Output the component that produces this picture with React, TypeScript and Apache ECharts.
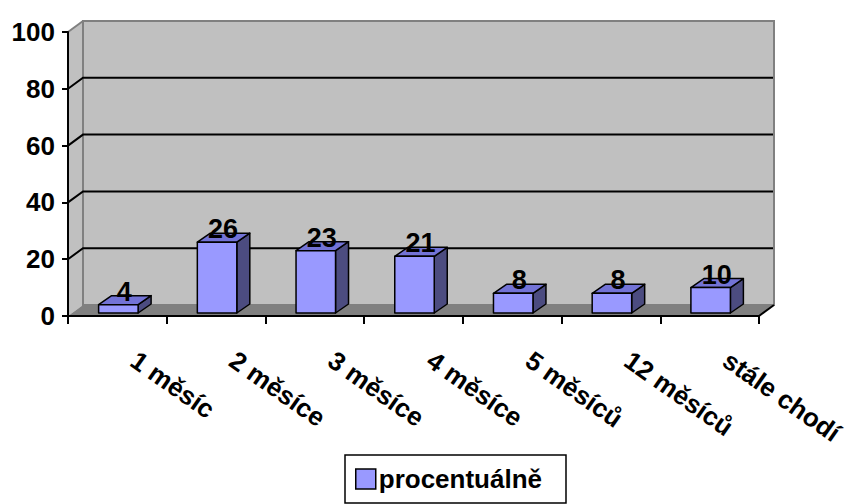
import React, { useEffect, useRef } from "react";
import * as echarts from "echarts";

const categories = ["1 měsíc", "2 měsíce", "3 měsíce", "4 měsíce", "5 měsíců", "12 měsíců", "stále chodí"];
const values = [4, 26, 23, 21, 8, 8, 10];
const seriesName = "procentuálně";
const yMin = 0;
const yMax = 100;
const yInterval = 20;
const gridValues = [20, 40, 60, 80];

const FONT = "'Liberation Sans', Arial, sans-serif";
const DX = 15;
const DY = -11;
const BDX = 13;
const BDY = -9;

export default function App() {
  const ref = useRef<HTMLDivElement>(null);
  useEffect(() => {
    if (!ref.current) return;
    const chart = echarts.init(ref.current, null, { renderer: "svg" });
    const black = { color: "#000", width: 2 };
    const option: any = {
      animation: false,
      grid: { left: 68, top: 32, width: 691, height: 284 },
      legend: {
        left: 345,
        top: 455,
        orient: "horizontal",
        borderColor: "#000",
        borderWidth: 1.5,
        borderRadius: 0,
        padding: [11, 24, 11, 10],
        itemWidth: 20,
        itemHeight: 20,
        itemGap: 4,
        data: [{ name: seriesName, icon: "rect", itemStyle: { color: "#9999FF", borderColor: "#000", borderWidth: 1.5 } }],
        textStyle: { color: "#000", fontSize: 26, fontWeight: "bold", fontFamily: FONT, padding: [0, 0, 0, -2] },
      },
      xAxis: {
        type: "category",
        data: categories,
        boundaryGap: true,
        axisLine: { show: true, lineStyle: black },
        axisTick: { show: true, length: 8, interval: 0, lineStyle: black },
        axisLabel: {
          interval: 0,
          rotate: -35,
          margin: 30,
          padding: [0, 0, 0, 20],
          color: "#000",
          fontSize: 26,
          fontWeight: "bold",
          fontFamily: FONT,
        },
        splitLine: { show: false },
      },
      yAxis: {
        type: "value",
        min: yMin,
        max: yMax,
        interval: yInterval,
        axisLine: { show: true, lineStyle: black },
        axisTick: { show: true, length: 6, lineStyle: black },
        splitLine: { show: false },
        axisLabel: { margin: 13, color: "#000", fontSize: 26, fontWeight: "bold", fontFamily: FONT },
      },
      series: [
        {
          type: "custom",
          name: "__bg",
          z: -1,
          silent: true,
          data: [[0, 0]],
          encode: { x: 0, y: 1 },
          renderItem: (params: any, api: any) => {
            const cs = params.coordSys;
            const L = cs.x;
            const R = cs.x + cs.width;
            const y0 = api.coord([0, yMin])[1];
            const y1 = api.coord([0, yMax])[1];
            const children: any[] = [];
            children.push({
              type: "polygon",
              shape: { points: [[L, y0], [L, y1], [L + DX, y1 + DY], [L + DX, y0 + DY]] },
              style: { fill: "#C0C0C0" },
            });
            children.push({
              type: "rect",
              shape: { x: L + DX, y: y1 + DY, width: R - L, height: y0 - y1 },
              style: { fill: "#C0C0C0", stroke: "#808080", lineWidth: 2 },
            });
            children.push({
              type: "line",
              shape: { x1: L, y1: y1, x2: L + DX, y2: y1 + DY },
              style: { stroke: "#808080", lineWidth: 2 },
            });
            gridValues.forEach((v) => {
              const y = api.coord([0, v])[1];
              children.push({
                type: "polyline",
                shape: { points: [[L, y], [L + DX, y + DY], [R + DX - 1, y + DY]] },
                style: { stroke: "#000", lineWidth: 2, fill: "none" },
              });
            });
            children.push({
              type: "polygon",
              shape: { points: [[L, y0], [L + DX, y0 + DY], [R + DX, y0 + DY], [R, y0]] },
              style: { fill: "#808080" },
            });
            children.push({
              type: "line",
              shape: { x1: R + DX, y1: y0 + DY, x2: R, y2: y0 },
              style: { stroke: "#000", lineWidth: 2 },
            });
            return { type: "group", children };
          },
        },
        {
          type: "custom",
          name: seriesName,
          z: 3,
          itemStyle: { color: "#9999FF", borderColor: "#000", borderWidth: 1.5 },
          data: values.map((v, i) => [i, v]),
          encode: { x: 0, y: 1 },
          renderItem: (params: any, api: any) => {
            const i = api.value(0);
            const v = api.value(1);
            const c0 = api.coord([i, 0]);
            const c1 = api.coord([i, v]);
            const bw = api.size([1, 0])[0];
            const w = bw * 0.4;
            const x0 = c0[0] - w / 2 + 1;
            const x1 = x0 + w;
            const yb = c0[1] - 3;
            const yt = c1[1];
            const stroke = { stroke: "#000", lineWidth: 1.5, lineJoin: "round" };
            return {
              type: "group",
              children: [
                {
                  type: "polygon",
                  shape: { points: [[x1, yt], [x1 + BDX, yt + BDY], [x1 + BDX, yb + BDY], [x1, yb]] },
                  style: { fill: "#4C4C80", ...stroke },
                },
                {
                  type: "polygon",
                  shape: { points: [[x0, yt], [x1, yt], [x1 + BDX, yt + BDY], [x0 + BDX, yt + BDY]] },
                  style: { fill: "#7373D6", ...stroke },
                },
                {
                  type: "rect",
                  shape: { x: x0, y: yt, width: w, height: yb - yt },
                  style: { fill: "#9999FF", ...stroke },
                },
                {
                  type: "text",
                  x: (x0 + x1) / 2 + 6,
                  y: yt - 13,
                  style: {
                    text: String(v),
                    fill: "#000",
                    font: `bold 27px ${FONT}`,
                    textAlign: "center",
                    textVerticalAlign: "middle",
                  },
                },
              ],
            };
          },
        },
      ],
    };
    chart.setOption(option);
    return () => chart.dispose();
  }, []);
  return <div ref={ref} style={{ position: "absolute", left: 0, top: 0, width: 853, height: 504 }} />;
}
